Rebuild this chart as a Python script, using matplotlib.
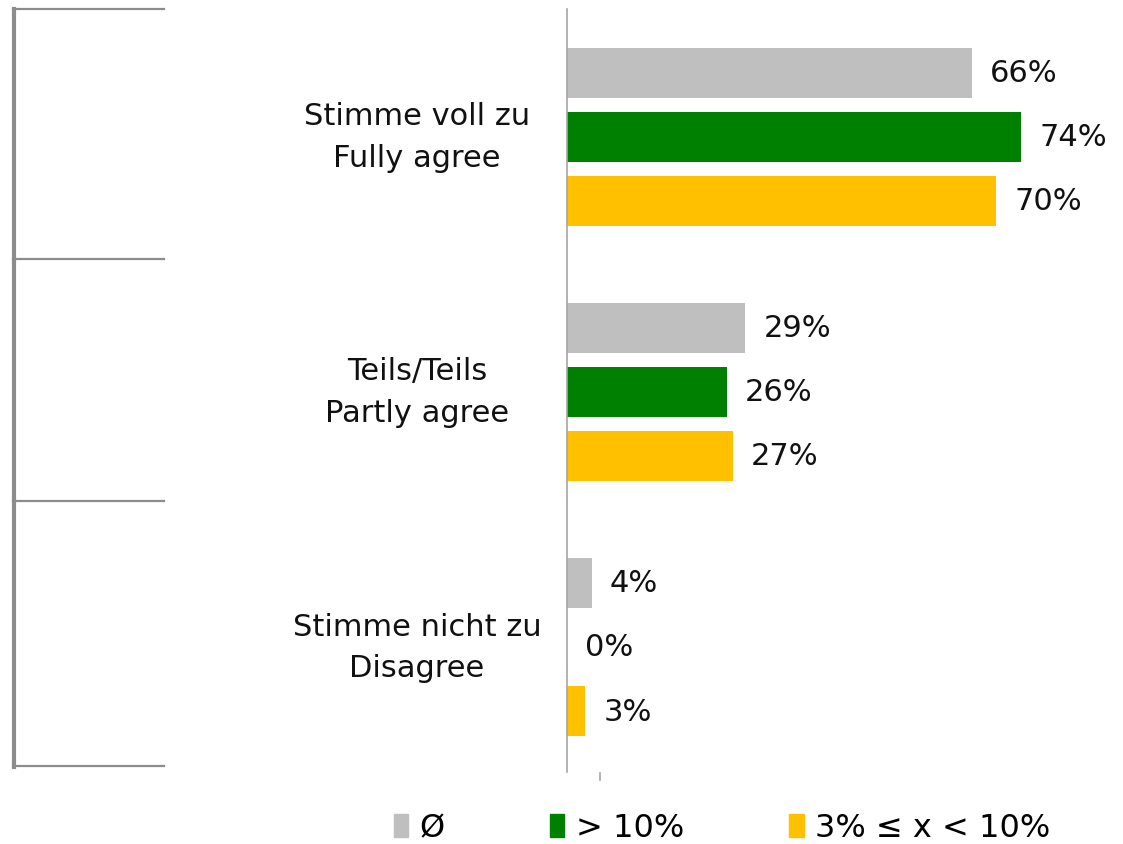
import matplotlib
matplotlib.use('Agg')
import matplotlib.pyplot as plt
import matplotlib.transforms as mtransforms
from matplotlib.lines import Line2D
from matplotlib.patches import Patch
import numpy as np

# Antwortkategorien (oben nach unten)
categories = ['Stimme voll zu\nFully agree', 'Teils/Teils\nPartly agree', 'Stimme nicht zu\nDisagree']
series_names = ['Ø', '> 10%', '3% ≤ x < 10%']
avg_vals = [66, 29, 4]
high_vals = [74, 26, 0]
mid_vals = [70, 27, 3]
colors = ['#BFBFBF', '#008000', '#FFC000']

W, H = 1123, 845
fig = plt.figure(figsize=(W / 100, H / 100), dpi=100)
plt.rcParams['font.family'] = ['DejaVu Sans']

# Achse beginnt bei x=567px
ax = fig.add_axes([567 / W, 1 - 773 / H, (1113 - 567) / W, (773 - 10) / H])

y = np.arange(len(categories))
offsets = [-0.251, 0, 0.251]
bar_h = 0.196
series = [avg_vals, high_vals, mid_vals]

for vals, off, col in zip(series, offsets, colors):
    bars = ax.barh(y + off, vals, height=bar_h, color=col)
    for b, v in zip(bars, vals):
        ax.text(b.get_width() + 3.0, b.get_y() + b.get_height() / 2, f'{v}%',
                va='center', ha='left', fontsize=22, color='#111111')

ax.set_xlim(0, 89)
ax.set_ylim(2.49, -0.5)
ax.set_xticks([])
ax.set_yticks([])
for s in ['top', 'right', 'bottom']:
    ax.spines[s].set_visible(False)
ax.spines['left'].set_color('#A6A6A6')
ax.spines['left'].set_linewidth(1.2)

# Kategorienbeschriftungen links (x in Figurkoordinaten, y in Daten)
trans = mtransforms.blended_transform_factory(fig.transFigure, ax.transData)
for yi, cat in zip(y, categories):
    ax.text(417 / W, yi, cat, transform=trans, ha='center', va='center',
            fontsize=22, color='#111111', linespacing=1.55)

# kleiner Strich unter der Achse
fig.add_artist(Line2D([600 / W, 600 / W], [1 - 774 / H, 1 - 781 / H], color='#A6A6A6', lw=1.2))

# Tabellenrahmen links
line_col = '#8C8C8C'
fig.add_artist(Line2D([13.5 / W, 13.5 / W], [1 - 10 / H, 1 - 768 / H], color=line_col, lw=3))
for yp in [10, 260, 502, 767]:
    fig.add_artist(Line2D([13 / W, 164 / W], [1 - yp / H, 1 - yp / H], color=line_col, lw=1.6))

# Legende
handles = [Patch(color=c, label=n) for c, n in zip(colors, series_names)]
fig.legend(handles=handles, loc='center', bbox_to_anchor=(722 / W, 1 - 829 / H), ncol=3,
           frameon=False, fontsize=23, handlelength=0.45, handleheight=0.7,
           handletextpad=0.35, columnspacing=3.3)

fig.savefig('out.png', dpi=100)
